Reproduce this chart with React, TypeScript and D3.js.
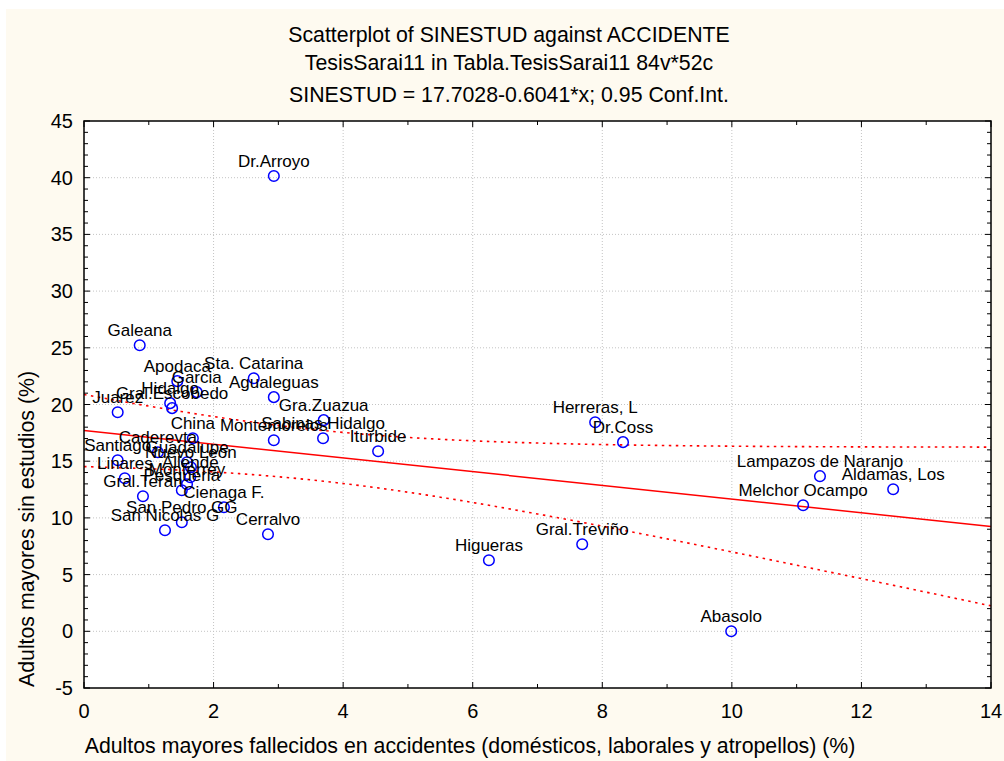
import React from "react";
import * as d3 from "d3";

const names = [
  "Dr.Arroyo", "Galeana", "Apodaca", "Garcia", "Sta. Catarina", "Agualeguas",
  "Hidalgo", "Gral.Escobedo", "Juarez", "Gra.Zuazua", "Sabinas Hidalgo",
  "Montemorelos", "China", "Iturbide", "Herreras, L", "Dr.Coss", "Gral.Treviño",
  "Higueras", "Abasolo", "Lampazos de Naranjo", "Aldamas, Los", "Melchor Ocampo",
  "Cerralvo", "Caderevta", "Santiago", "Guadalupe", "Nuevo Leon", "Linares",
  "Allende", "Monterrey", "Pesqueria", "Gral.Teran", "Cienaga F.", "San Pedro GG",
  "San Nicolas G",
];
const accidente = [
  2.93, 0.86, 1.44, 1.74, 2.62, 2.93,
  1.33, 1.36, 0.52, 3.70, 3.69,
  2.93, 1.68, 4.54, 7.89, 8.32, 7.69,
  6.25, 9.99, 11.36, 12.49, 11.10,
  2.84, 1.14, 0.52, 1.59, 1.65, 0.63,
  1.64, 1.59, 1.51, 0.91, 2.16, 1.51,
  1.25,
];
const sinestud = [
  40.15, 25.23, 22.06, 21.09, 22.32, 20.65,
  20.12, 19.68, 19.32, 18.62, 17.03,
  16.85, 17.03, 15.88, 18.44, 16.68, 7.68,
  6.26, 0.0, 13.68, 12.53, 11.12,
  8.56, 15.79, 15.09, 14.91, 14.47, 13.5,
  13.59, 12.97, 12.44, 11.91, 10.94, 9.62,
  8.91,
];

const xTicks = [0, 2, 4, 6, 8, 10, 12, 14];
const yTicks = [-5, 0, 5, 10, 15, 20, 25, 30, 35, 40, 45];
const xMinorTicks = d3.range(0, 15, 1);
const yMinorTicks = d3.range(-5, 46, 1);

const intercept = 17.7028;
const slope = -0.6041;
// confidence band: half-width = sqrt(bandA + bandB * (x - bandMeanX)^2)
const bandA = 4.99;
const bandB = 0.4035;
const bandMeanX = 3.557;

const titleLines = [
  "Scatterplot of SINESTUD against ACCIDENTE",
  "TesisSarai11 in Tabla.TesisSarai11 84v*52c",
  "SINESTUD = 17.7028-0.6041*x; 0.95 Conf.Int.",
];
const xTitle = "Adultos mayores fallecidos en accidentes (domésticos, laborales y atropellos) (%)";
const yTitle = "Adultos mayores sin estudios (%)";

const FONT = "'Liberation Sans', Arial, Helvetica, sans-serif";

export default function App() {
  const W = 1004, H = 761;
  const L = 84, R = 991, T = 121, B = 688;
  const x = d3.scaleLinear().domain([0, 14]).range([L, R]);
  const y = d3.scaleLinear().domain([-5, 45]).range([B, T]);

  const xs = d3.range(0, 14.0001, 0.1);
  const fit = (v: number) => intercept + slope * v;
  const half = (v: number) => Math.sqrt(bandA + bandB * (v - bandMeanX) ** 2);
  const line = d3.line<number[]>().x((d) => x(d[0])).y((d) => y(d[1]));
  const fitPath = line([[0, fit(0)], [14, fit(14)]])!;
  const upPath = line(xs.map((v) => [v, fit(v) + half(v)]))!;
  const loPath = line(xs.map((v) => [v, fit(v) - half(v)]))!;

  return (
    <svg width={W} height={H} style={{ position: "absolute", left: 0, top: 0, display: "block" }} fontFamily={FONT}>
      <rect x={0} y={0} width={W} height={H} fill="#ffffff" />
      <rect x={6} y={9} width={W - 6} height={H - 9} fill="#fefaf0" />
      <defs>
        <clipPath id="plotclip">
          <rect x={L} y={T} width={R - L} height={B - T} />
        </clipPath>
      </defs>
      <rect x={L} y={T} width={R - L} height={B - T} fill="#ffffff" />
      {/* grid */}
      {xTicks.slice(1, -1).map((t) => (
        <line key={"gx" + t} x1={x(t)} x2={x(t)} y1={T} y2={B} stroke="#c4c4c4" strokeWidth={1} strokeDasharray="1,2" />
      ))}
      {yTicks.slice(1, -1).map((t) => (
        <line key={"gy" + t} x1={L} x2={R} y1={y(t)} y2={y(t)} stroke="#c4c4c4" strokeWidth={1} strokeDasharray="1,2" />
      ))}
      {/* regression */}
      <g clipPath="url(#plotclip)">
        <path d={fitPath} fill="none" stroke="#ff0000" strokeWidth={1.5} />
        <path d={upPath} fill="none" stroke="#ff0000" strokeWidth={1.6} strokeDasharray="2.5,4.5" />
        <path d={loPath} fill="none" stroke="#ff0000" strokeWidth={1.6} strokeDasharray="2.5,4.5" />
      </g>
      {/* points */}
      {accidente.map((a, i) => (
        <circle key={"p" + i} cx={x(a)} cy={y(sinestud[i])} r={5.3} fill="none" stroke="#0000ff" strokeWidth={1.5} />
      ))}
      {accidente.map((a, i) => (
        <text key={"l" + i} x={x(a)} y={y(sinestud[i]) - 9} textAnchor="middle" fontSize={17} fill="#000">
          {names[i]}
        </text>
      ))}
      {/* ticks */}
      {xMinorTicks.map((t) => {
        const len = t % 2 === 0 ? 6 : 4;
        return (
          <g key={"xt" + t}>
            <line x1={x(t)} x2={x(t)} y1={B} y2={B - len} stroke="#000" strokeWidth={1} />
            <line x1={x(t)} x2={x(t)} y1={T} y2={T + len} stroke="#000" strokeWidth={1} />
          </g>
        );
      })}
      {yMinorTicks.map((t) => {
        const len = t % 5 === 0 ? 6 : 4;
        return (
          <g key={"yt" + t}>
            <line x1={L} x2={L + len} y1={y(t)} y2={y(t)} stroke="#000" strokeWidth={1} />
            <line x1={R} x2={R - len} y1={y(t)} y2={y(t)} stroke="#000" strokeWidth={1} />
          </g>
        );
      })}
      <rect x={L} y={T} width={R - L} height={B - T} fill="none" stroke="#000" strokeWidth={1.5} />
      {/* tick labels */}
      {xTicks.map((t) => (
        <text key={"xl" + t} x={x(t)} y={718} textAnchor="middle" fontSize={20} fill="#000">{t}</text>
      ))}
      {yTicks.map((t) => (
        <text key={"yl" + t} x={73} y={y(t) + 7} textAnchor="end" fontSize={20} fill="#000">{t}</text>
      ))}
      {/* titles */}
      {titleLines.map((s, i) => (
        <text key={"t" + i} x={509} y={[42, 70, 102][i]} textAnchor="middle" fontSize={21.3} fill="#000">{s}</text>
      ))}
      <text x={470} y={753} textAnchor="middle" fontSize={21.3} fill="#000">{xTitle}</text>
      <text transform={`translate(34,529) rotate(-90)`} textAnchor="middle" fontSize={21.3} fill="#000">{yTitle}</text>
    </svg>
  );
}
